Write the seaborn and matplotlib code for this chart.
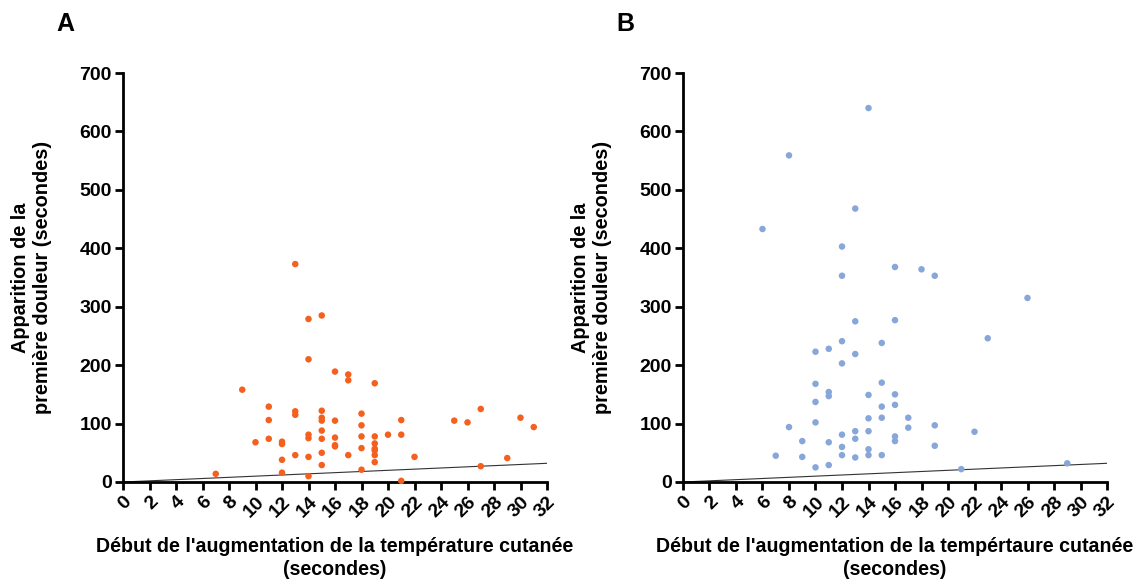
import matplotlib
matplotlib.use("Agg")
import matplotlib.pyplot as plt
import seaborn as sns
import pandas as pd

# Panel A data (orange)
xA = [7, 9, 10, 11, 11, 11, 12, 12, 12, 12, 13, 13, 13, 13, 14, 14, 14, 14, 14, 14,
      15, 15, 15, 15, 15, 15, 15, 15, 16, 16, 16, 16, 16, 17, 17, 17, 18, 18, 18, 18, 18,
      19, 19, 19, 19, 19, 19, 19, 20, 21, 21, 21, 22, 25, 26, 27, 27, 29, 30, 31]
yA = [14, 158, 68, 129, 106, 74, 69, 65, 38, 16, 373, 121, 115, 46, 279, 210, 81, 75, 43, 10,
      285, 122, 110, 105, 88, 74, 50, 29, 189, 105, 76, 63, 61, 184, 174, 46, 117, 97, 78, 58, 21,
      169, 78, 66, 57, 54, 46, 34, 81, 106, 81, 2, 43, 105, 102, 125, 27, 41, 110, 94]

# Panel B data (blue)
xB = [6, 7, 8, 8, 9, 9, 10, 10, 10, 10, 10, 11, 11, 11, 11, 11, 12, 12, 12, 12, 12, 12, 12,
      13, 13, 13, 13, 13, 13, 14, 14, 14, 14, 14, 14, 15, 15, 15, 15, 15,
      16, 16, 16, 16, 16, 16, 17, 17, 18, 19, 19, 19, 21, 22, 23, 26, 29]
yB = [433, 45, 559, 94, 70, 43, 223, 168, 137, 102, 25, 228, 154, 147, 68, 29, 403, 353, 241, 203, 81, 60, 46,
      468, 275, 219, 87, 74, 42, 640, 149, 109, 87, 56, 46, 238, 170, 129, 110, 46,
      368, 277, 150, 132, 78, 70, 110, 93, 364, 353, 97, 62, 22, 86, 246, 315, 32]

# identity reference line
line_x = [0, 32]
line_y = [0, 32]

xticks = list(range(0, 33, 2))
yticks = list(range(0, 701, 100))

ylabel = "Apparition de la\npremière douleur (secondes)"
xlabelA = "Début de l'augmentation de la température cutanée\n(secondes)"
xlabelB = "Début de l'augmentation de la tempértaure cutanée\n(secondes)"

sns.set_style("ticks")
plt.rcParams['font.family'] = ['Liberation Sans', 'DejaVu Sans']
plt.rcParams['font.weight'] = 'bold'
plt.rcParams['text.color'] = 'black'
plt.rcParams['axes.labelcolor'] = 'black'
plt.rcParams['xtick.color'] = 'black'
plt.rcParams['ytick.color'] = 'black'

fig = plt.figure(figsize=(11.42, 5.82), dpi=100)
W, H = 1142, 582
axA = fig.add_axes([123 / W, 1 - 482 / H, 424 / W, 409 / H])
axB = fig.add_axes([683 / W, 1 - 482 / H, 424 / W, 409 / H])

dfA = pd.DataFrame({"x": xA, "y": yA})
dfB = pd.DataFrame({"x": xB, "y": yB})
dfL = pd.DataFrame({"x": line_x, "y": line_y})

for ax, df, color, xl, lab in [(axA, dfA, "#F4601E", xlabelA, "A"),
                               (axB, dfB, "#87A6DA", xlabelB, "B")]:
    sns.lineplot(data=dfL, x="x", y="y", ax=ax, color="#333333", linewidth=0.8)
    sns.scatterplot(data=df, x="x", y="y", ax=ax, color=color, s=22,
                    edgecolor="none", clip_on=False, zorder=3)
    ax.set_xlim(0, 32)
    ax.set_ylim(0, 700)
    ax.set_xticks(xticks)
    ax.set_yticks(yticks)
    ax.set_xticklabels([str(t) for t in xticks], rotation=45, ha="right",
                       rotation_mode="anchor", fontsize=14, fontweight="bold")
    ax.set_yticklabels([str(t) for t in yticks], fontsize=14, fontweight="bold")
    ax.tick_params(axis="both", length=6, width=2, colors="black", pad=2)
    for s in ["left", "bottom"]:
        ax.spines[s].set_linewidth(2)
        ax.spines[s].set_color("black")
    sns.despine(ax=ax)
    ax.set_xlabel(xl, fontsize=14.1, fontweight="bold", labelpad=12, linespacing=1.25)
    ax.set_ylabel(ylabel, fontsize=14.3, fontweight="bold", labelpad=20, linespacing=1.2)
    ax.text(-0.135, 1.12, lab, transform=ax.transAxes, fontsize=18,
            fontweight="bold", ha="center", va="center")

fig.savefig("out.png", dpi=100)
